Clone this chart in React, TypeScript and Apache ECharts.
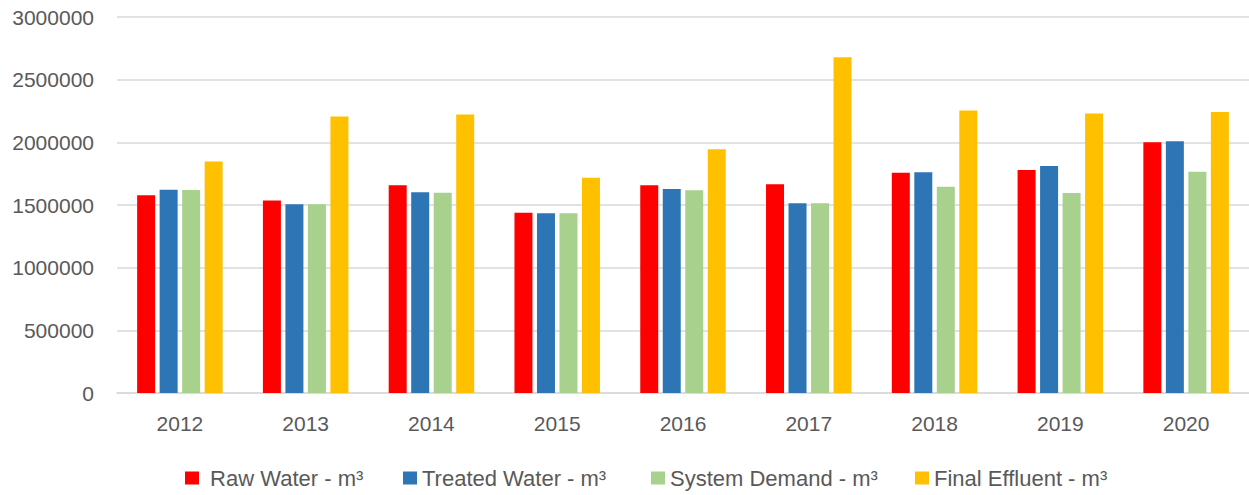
import React, { useEffect, useRef } from "react";
import * as echarts from "echarts";

const categories = ["2012", "2013", "2014", "2015", "2016", "2017", "2018", "2019", "2020"];
const rawWater = [1578000, 1535000, 1657000, 1439000, 1657000, 1665000, 1758000, 1779000, 2000000];
const treatedWater = [1622000, 1505000, 1601000, 1434000, 1628000, 1513000, 1761000, 1811000, 2008000];
const systemDemand = [1620000, 1505000, 1598000, 1434000, 1617000, 1513000, 1646000, 1596000, 1766000];
const finalEffluent = [1848000, 2207000, 2223000, 1718000, 1944000, 2678000, 2253000, 2231000, 2242000];
const seriesNames = ["Raw Water - m³", "Treated Water - m³", "System Demand - m³", "Final Effluent - m³"];
const colors = ["#FF0000", "#2E75B6", "#A9D18E", "#FFC000"];
const legendLefts = [180, 398, 646, 910];

export default function App() {
  const ref = useRef<HTMLDivElement>(null);
  useEffect(() => {
    if (!ref.current) return;
    const chart = echarts.init(ref.current, undefined, { renderer: "svg" });
    const data = [rawWater, treatedWater, systemDemand, finalEffluent];
    const font = "Liberation Sans, Arial, sans-serif";
    chart.setOption({
      animation: false,
      color: colors,
      grid: { left: 117, right: 0, top: 17, bottom: 102 },
      xAxis: {
        type: "category",
        data: categories,
        axisLine: { lineStyle: { color: "#D9D9D9", width: 1.5 } },
        axisTick: { show: false },
        axisLabel: { color: "#595959", fontSize: 21, fontFamily: font, margin: 20 },
      },
      yAxis: {
        type: "value",
        min: 0,
        max: 3000000,
        interval: 500000,
        axisLine: { show: false },
        axisTick: { show: false },
        splitLine: { lineStyle: { color: "#D9D9D9", width: 1.5 } },
        axisLabel: {
          color: "#595959",
          fontSize: 21,
          fontFamily: font,
          margin: 23,
          formatter: (v: number) => String(v),
        },
      },
      legend: seriesNames.map((name, i) => ({
        left: legendLefts[i],
        top: 462,
        icon: "rect",
        itemWidth: 14,
        itemHeight: 13,
        itemGap: 0,
        textStyle: { color: "#595959", fontSize: 22, fontFamily: font },
        formatter: (n: string) => (i === 0 ? " " + n : n),
        data: [name],
      })),
      series: seriesNames.map((name, i) => ({
        name,
        type: "bar",
        data: data[i],
        barWidth: 18,
        barGap: "25%",
        itemStyle: { color: colors[i] },
      })),
    });
    return () => chart.dispose();
  }, []);
  return <div ref={ref} style={{ width: 1249, height: 495, position: "absolute", left: 0, top: 0 }} />;
}
